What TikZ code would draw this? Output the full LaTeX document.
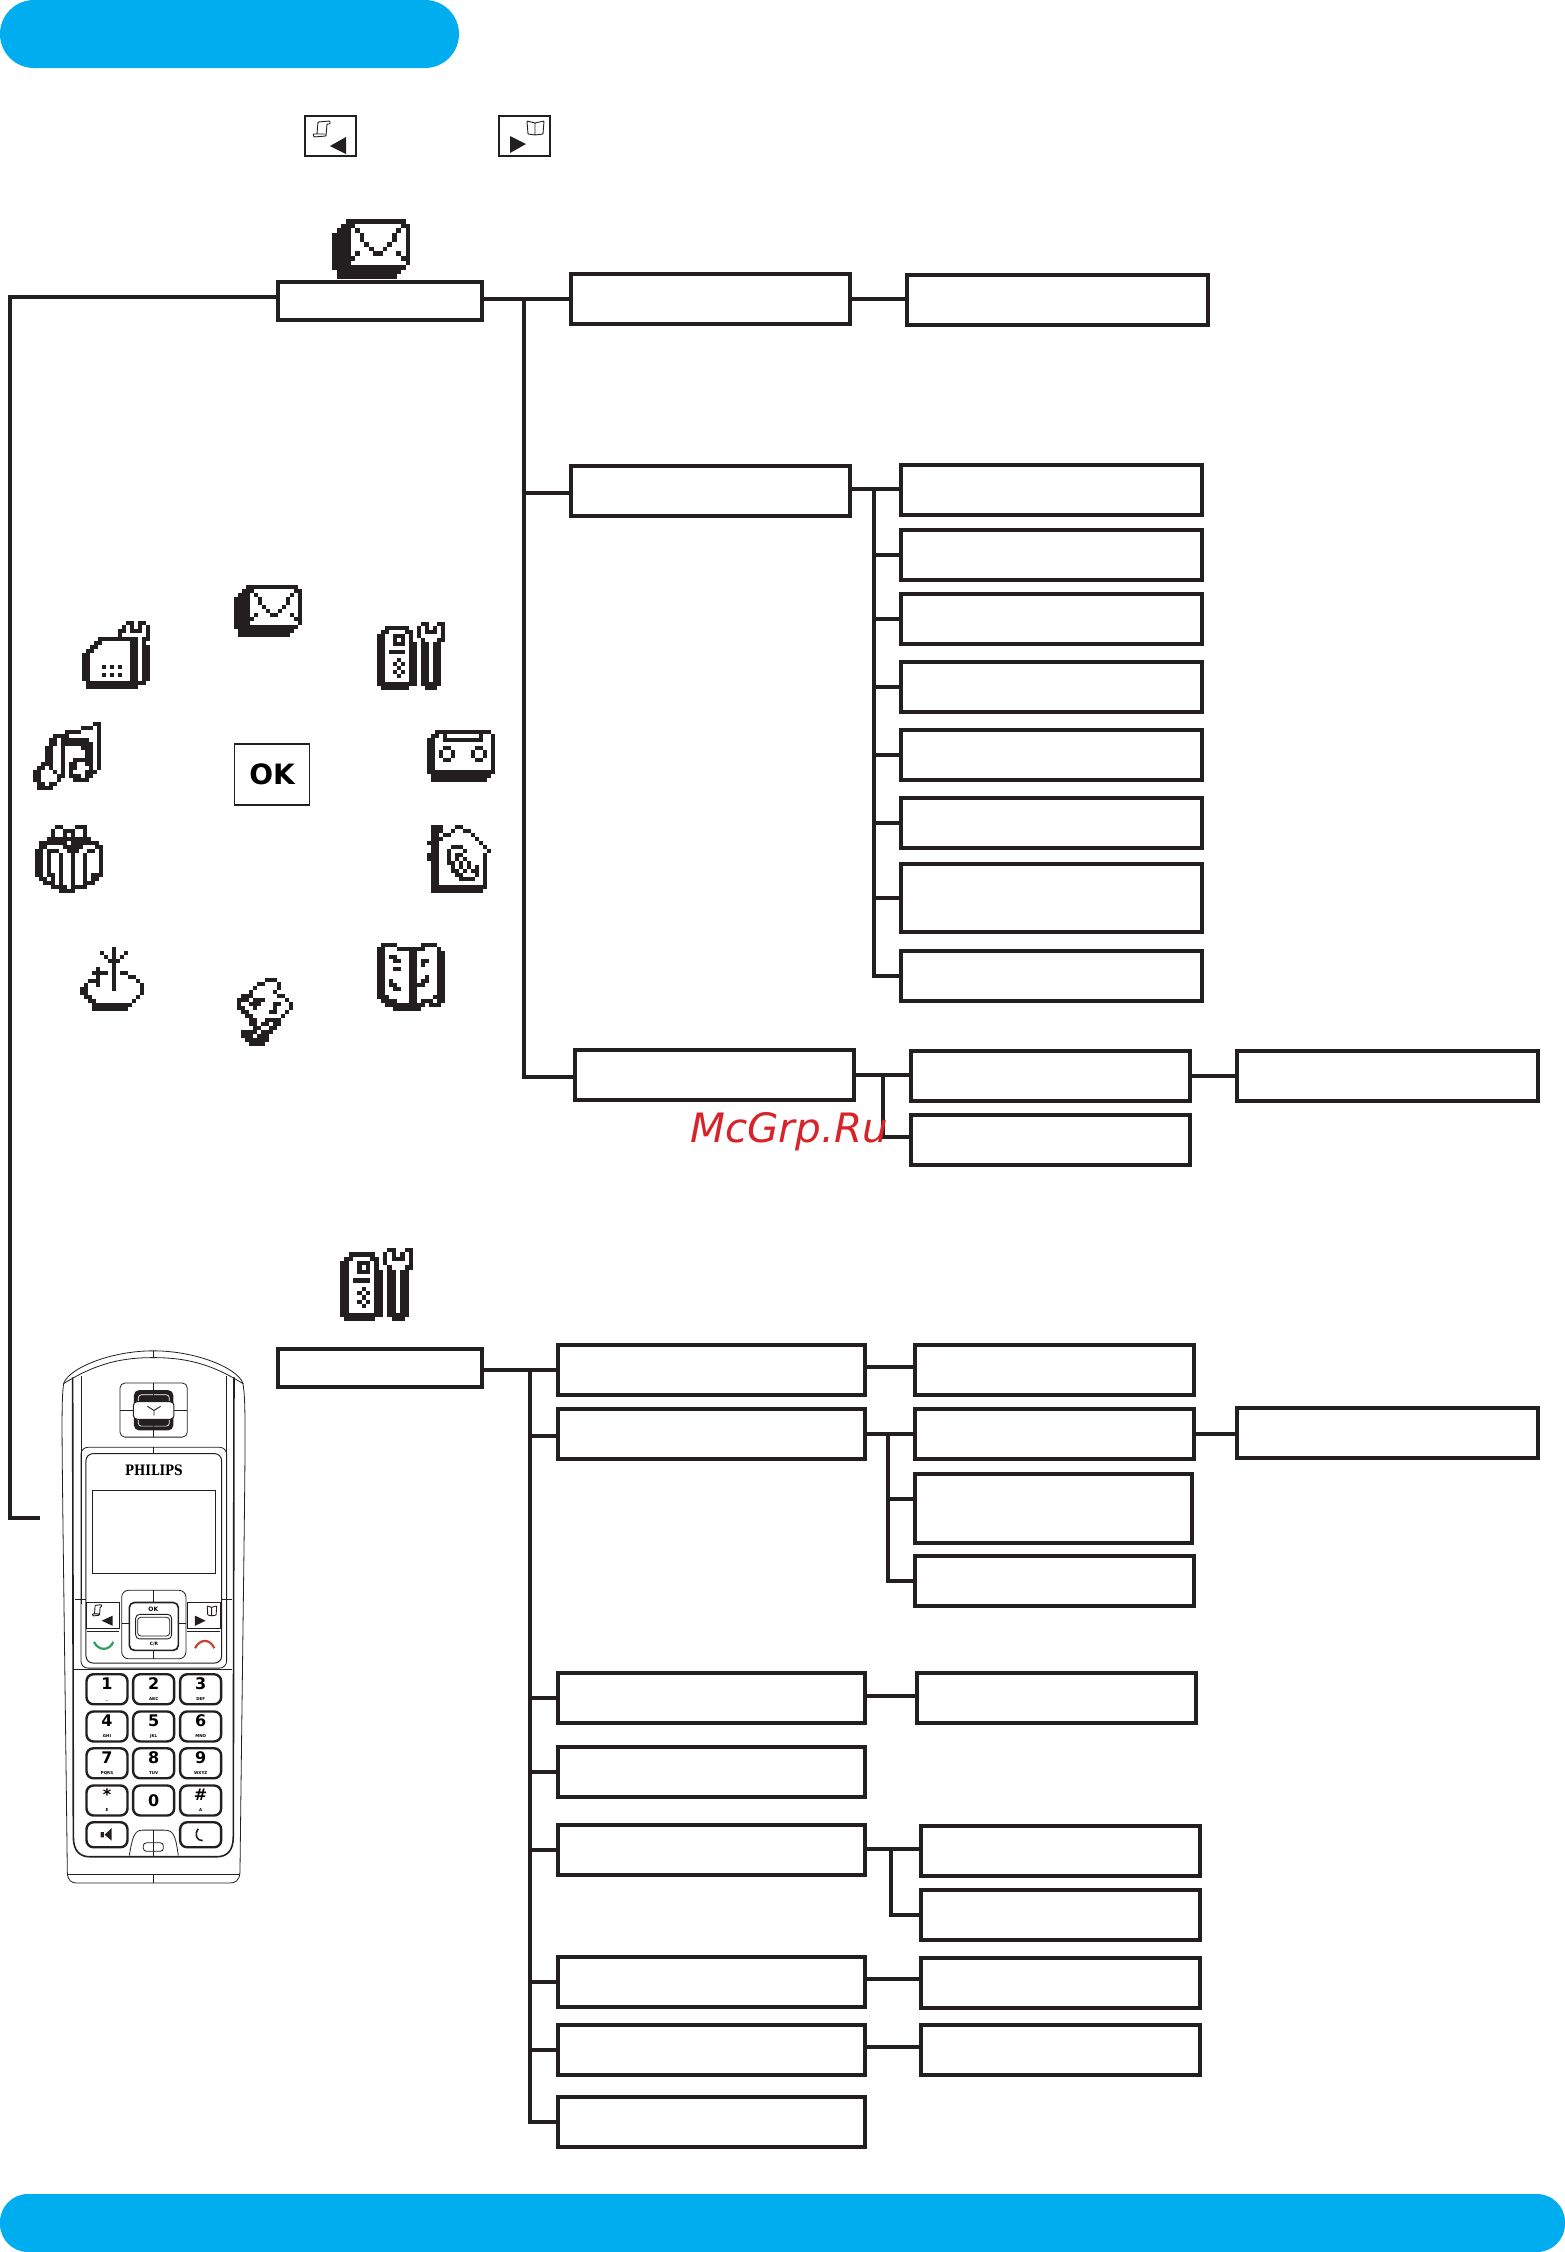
\documentclass[tikz,border=0pt]{standalone}
\usepackage{fontspec}
\usetikzlibrary{positioning}
\newfontfamily\dejavu{DejaVu Sans}
\newfontfamily\dejaserif{DejaVu Serif}
\definecolor{ink}{HTML}{231F20}
\definecolor{barblue}{HTML}{00AEEF}
\definecolor{markred}{HTML}{D9232A}
\definecolor{callgreen}{HTML}{2F9E63}
\definecolor{callred}{HTML}{C8452F}

\newcount\pixcol
\newcommand{\pixscan}[1]{\ifx#1\relax\else\if#1X\fill[ink] ({\pixx+\the\pixcol*\pixs},{\pixy+\j*\pixs}) rectangle ++({\pixs+.15},{\pixs+.15});\fi\advance\pixcol by 1 \expandafter\pixscan\fi}
\newcommand{\pixelicon}[4]{\def\pixx{#1}\def\pixy{#2}\def\pixs{#3}\foreach \row [count=\j from 0] in #4 {\pixcol=0 \expandafter\pixscan\row\relax}}
\newcommand{\keytext}[2]{{\fontsize{16}{12}\selectfont #1}\\[-1pt]{\fontsize{4}{4}\selectfont #2}}

\newcommand{\iconmail}{oooXXXXXXXXXXXXXo,ooXXXooooooooooXX,oXXXoXooooooooXoX,XXXXooXooooooXooX,XXXXooXooooooXooX,XXXXoooXooooXoooX,XXXXooooXooXooooX,XXXXoXoooXXoooXoX,XXXXXooooooooooXX,XXXXooooooooooooX,XXXXXXXXXXXXXXXXo,oXXXXXXXXXXXXXXoo,oXXXXXXXXXXXXXooo}
\newcommand{\iconfax}{oooooooooooXXoXXo,ooooooooooXoXoXoX,oooooooooXXoXXXoX,oooooooooXooooooX,ooooXXXXXXXXXXoXX,oooXXoooooooXXoXo,ooXXooooooooXXoXX,oXXoooooooooXXoXX,XXooooooooooXXoXX,XXooooooooooXXoXX,XXooooooooooXXoXX,XXoooXoXoXooXXoXX,XXooooooooooXXoXX,XXoooXoXoXooXXoXX,XXooooooooooXXoXX,oXXXXXXXXXXXXXXXo,oXXXXXXXXXXXXXooo}
\newcommand{\icontools}{oooooooooooXXooXX,ooXXXXXXooXoXoXoX,oXXooooXXoXoXXXoX,XXooXXXoXoXoooooX,XXooXoXoXooXoooXX,XXooXXXoXXoXXoXXo,XXooooooXXoXXoXXo,XXoXXXXoXXoXXoXXo,XXooooooXXoXXoXXo,XXoooXooXXoXXoXXo,XXooXoXoXXoXXoXXo,XXoooXooXXoXXoXXo,XXooXoXoXXoXXoXXo,XXoooXooXXoXXoXXo,XXooooooXXoXXoXXo,XXXXXXXXXXoXXXXXo,oXXXXXXXooooXXXoo}
\newcommand{\iconmusic}{oooooooooooooooXX,ooooooooooooXXXoX,ooooooooXXXXooooX,oooooXXXXoooooooX,ooooXXoXXXXXXXooX,ooooXXoXXXXXXXXoX,oooXXooXooooXXXoX,oooXXooXoooooXXoX,oooXXooXoooooXXoX,oooXXooXooXXXXXoX,ooXXXooXoXXooXXoX,oXXoXooXoXXoooXoX,XXoooXoXoXoooXXXo,XXooooXXoXXXoXXoo,XXooooXoooXXXXooo,oXXoXXooooooooooo,oXXXXoooooooooooo}
\newcommand{\icontape}{ooXXXXXXXXXXXXXXo,oXXoXooooooooXooX,XXooXXXXXXXXXXooX,XXooooooooooooooX,XXooXXooooooXXooX,XXoXooXooooXooXoX,XXoXooXooooXooXoX,XXooXXooooooXXooX,XXooooooooooooooX,XXooooooooooooooX,XXXXXXXXXXXXXXXXX,oXXXXXXXXXXXXXXXo,oXXXXXXXXXXXXXXoo}
\newcommand{\icongift}{oooooXXoooXXXoooo,ooooXooXXXooXoooo,ooooXooXoXooXoooo,oooXXXXXXXXXXXooo,oXXXXXXXoXXXXXXXo,oXXooooXXXXXoooXX,XXoXXXooXXXooXXoX,XXoXooXooXooXoooX,XXoXooXooXooXoooX,XXoXooXooXooXoooX,XXoXooXooXooXoooX,XXoXooXooXooXoooX,XXoXXoXooXooXoXXX,oXXoXoXooXooXoXXo,ooXXXoXooXooXXXoo,ooooXXXXoXXXXoooo,ooooooXXXXooooooo}
\newcommand{\iconhouse}{oXXXoooXXooooooo,oXXXooXooXXooooo,oXXoXXoooooXoooo,oXXXooooooooXooo,XXXooooooooooXoo,oXXoooXXXoooooXo,oXXooXoooXoooooX,XXXooXoXXoooooXo,XXXooXoXoXooooXo,oXXooXXoXoXoooXo,oXXoooXoXoXoXoXo,oXXoooXXoXoXXoXo,oXXooooXXoooXoXo,oXXoooooXXXXooXo,oXXoooooooooooXo,oXXXXXXXXXXXXXXo,oXXXXXXXXXXXXXoo}
\newcommand{\iconaerial}{ooooooooXooooooo,oooooXooXooXoooo,ooooooXoXoXooooo,oooooooXXXoooooo,ooooooooXooooooo,ooooXoooXooooooo,oooXXXXoXoXXoooo,ooooXoooXoooXXoo,ooXXXoooXoooooXo,oXooXoooXooooooX,XXooooooXooooooX,XXoooooooooooooX,oXXoooooooooooXo,ooXXoooooooooXoo,oooXXXXXXXXXXooo,oooXXXXXXXXXoooo}
\newcommand{\iconscroll}{oooooooXXXoooo,oooooXXoooXooo,ooooXoooooXooo,oooXoooooXoooo,oXXXooooooXXoo,XXXoXXXoooooXo,XooXXXoooXXooX,XXooXooooXoooX,oXXoooooXXooXo,ooXXoooooooXoo,oooXXooXXXXooo,oooXXoXXoXXooo,ooooXXooXXoooo,oXXXXoXXXooooo,oXXXoXXXoooooo,ooXXXXXXoooooo,oooXXXXooooooo}
\newcommand{\iconbook}{oXXXXooooooXXXXoo,XXoooXXXXXXXoooXo,XXooooooXXoooooXX,XXoXXoooXXoooooXX,XXooXXooXXoXXooXX,XXooooooXXoXoooXX,XXooXXooXXoooooXX,XXooooooXXoooooXX,XXooooooXXooXooXX,XXoXooooXXoXXooXX,XXoXXoooXXXXoooXX,XXooXXooXXoooooXX,XXooooooXXoooooXX,XXXoooooXXooooXXX,oXXXXoooXXoXXXoXX,ooXXXXXXXXXXoXXXo,ooooXXXXXXXoooooo}

\tikzset{
  pics/scrollmark/.style={code={
    \draw[ink, line width=.9pt, rounded corners=.8pt] (4,13) -- (5,1) -- (17,0) -- (17,3) -- (14,3) -- (13,15) -- (1,16) -- (0,13) -- (12,13);
  }},
  pics/bookmark/.style={code={
    \draw[ink, line width=.9pt, rounded corners=.6pt] (9,2) -- (1,0) -- (2,13) -- (9,14) -- cycle (9,2) -- (18,0) -- (17,13) -- (9,14);
  }}
}

\begin{document}
\begin{tikzpicture}[x=1pt, y=-1pt]
    \tikzstyle{boxbase} = [draw=ink, line width=4.2pt, fill=white, inner sep=0, outer sep=0, anchor=north west]
    \tikzstyle{topbox} = [boxbase, minimum width=204pt, minimum height=38pt]
    \tikzstyle{wideitem} = [boxbase, minimum width=307pt, minimum height=50pt]
    \tikzstyle{item} = [boxbase, minimum width=279pt, minimum height=50pt]
    \tikzstyle{leaf} = [boxbase, minimum width=301pt, minimum height=50pt]
    \tikzstyle{link} = [ink, line width=4pt]
    \tikzstyle{softkey} = [draw=ink, line width=1.5pt, fill=white, inner sep=0, minimum width=51pt, minimum height=40pt]
    \tikzstyle{phoneline} = [ink, line width=.8pt]
    \tikzstyle{phonekey} = [draw=ink, line width=2.4pt, rounded corners=7pt, inner sep=0, minimum width=41pt, minimum height=30pt, align=center, font=\dejavu\bfseries]
    \useasboundingbox (0, 0) rectangle (1565, 2252);

    % blue bars
    \fill[barblue, rounded corners=34pt] (0, 0) rectangle (459, 68);
    \fill[barblue, rounded corners=28pt] (0, 2194) rectangle (1565, 2252);

    % soft keys
    \node[softkey] (softleft) at (330.5, 136) {};
    \node[softkey] (softright) at (524.5, 136) {};
    \pic at (313, 121) {scrollmark};
    \fill[ink] (330, 146) -- (346, 137) -- (346, 154) -- cycle;
    \pic at (526, 121) {bookmark};
    \fill[ink] (526, 144) -- (510, 136) -- (510, 153) -- cycle;

    % icons round the ok key
    \pixelicon{332}{219}{4.6}{\iconmail}
    \pixelicon{234}{585}{4}{\iconmail}
    \pixelicon{82}{621}{4}{\iconfax}
    \pixelicon{377}{622}{4}{\icontools}
    \pixelicon{33}{722}{4}{\iconmusic}
    \pixelicon{427}{730}{4}{\icontape}
    \pixelicon{35}{825}{4}{\icongift}
    \pixelicon{427}{825}{4}{\iconhouse}
    \pixelicon{80}{947}{4}{\iconaerial}
    \pixelicon{237}{978}{4}{\iconscroll}
    \pixelicon{377}{943}{4}{\iconbook}
    \pixelicon{340}{1248}{4.3}{\icontools}
    \node[draw=ink, line width=1.6pt, minimum width=75pt, minimum height=61pt, font=\dejavu\bfseries\fontsize{28}{28}\selectfont, inner sep=0] (okkey) at (272, 774.5) {OK};

    % messages menu
    \node[topbox] (mail) at (278, 282) {};
    \node[item] (m1) at (571, 274) {};
    \node[leaf] (m1a) at (907, 275) {};
    \node[item] (m2) at (571, 466) {};
    \node[leaf] (m2a) at (901, 465) {};
    \node[leaf] (m2b) at (901, 530) {};
    \node[leaf] (m2c) at (901, 594) {};
    \node[leaf] (m2d) at (901, 662) {};
    \node[leaf] (m2e) at (901, 730) {};
    \node[leaf] (m2f) at (901, 798) {};
    \node[leaf, minimum height=68pt] (m2g) at (901, 864) {};
    \node[leaf] (m2h) at (901, 951) {};
    \node[item] (m3) at (575, 1050) {};
    \node[item] (m3a) at (911, 1051) {};
    \node[leaf] (m3b) at (1237, 1051) {};
    \node[item] (m3c) at (911, 1115) {};

    \coordinate (mailtrunk) at (524, 299);
    \coordinate (leftcorner) at (10, 1518);
    \coordinate (leftstub) at (40, 1518);
    \coordinate (m2trunk) at (874, 489);
    \coordinate (m3trunk) at (883, 1075);
    \draw[link] ([yshift=4pt]mail.west) -| (leftcorner) -- (leftstub);
    \draw[link] (mail.east |- m1.west) -- (m1.west);
    \draw[link] (mailtrunk) |- ([yshift=-2pt]m2.west);
    \draw[link] (mailtrunk) |- ([yshift=-2pt]m3.west);
    \draw[link] (m1.east) -- (m1.east -| m1a.west);
    \draw[link] (m2.east |- m2trunk) -- (m2a.west |- m2trunk);
    \draw[link] (m2trunk) |- (m2b.west);
    \draw[link] (m2trunk) |- (m2c.west);
    \draw[link] (m2trunk) |- (m2d.west);
    \draw[link] (m2trunk) |- (m2e.west);
    \draw[link] (m2trunk) |- (m2f.west);
    \draw[link] (m2trunk) |- (m2g.west);
    \draw[link] (m2trunk) |- (m2h.west);
    \draw[link] (m3.east |- m3trunk) -- (m3a.west |- m3trunk);
    \draw[link] (m3trunk) |- ([yshift=3pt]m3c.west);
    \draw[link] (m3a.east) -- (m3a.east -| m3b.west);

    % settings menu
    \node[topbox] (tools) at (278, 1349) {};
    \node[wideitem] (s1) at (558, 1345) {};
    \node[item] (s1a) at (915, 1345) {};
    \node[wideitem] (s2) at (558, 1409) {};
    \node[item] (s2a) at (915, 1409) {};
    \node[leaf] (s2b) at (1237, 1408) {};
    \node[item, minimum width=277pt, minimum height=69pt] (s2c) at (915, 1474) {};
    \node[item] (s2d) at (915, 1556) {};
    \node[wideitem] (s3) at (558, 1673) {};
    \node[item] (s3a) at (917, 1673) {};
    \node[wideitem] (s4) at (558, 1747) {};
    \node[wideitem] (s5) at (558, 1825) {};
    \node[item] (s5a) at (921, 1826) {};
    \node[item] (s5b) at (921, 1890) {};
    \node[wideitem] (s6) at (558, 1957) {};
    \node[item] (s6a) at (921, 1958) {};
    \node[wideitem] (s7) at (558, 2025) {};
    \node[item] (s7a) at (921, 2025) {};
    \node[wideitem] (s8) at (558, 2097) {};

    \coordinate (toolstrunk) at (530, 1372);
    \coordinate (s2trunk) at (888, 1434);
    \coordinate (s5trunk) at (891, 1849);
    \draw[link] (tools.east |- s1.west) -- (s1.west);
    \draw[link] (toolstrunk) |- ([yshift=-2pt]s2.west);
    \draw[link] (toolstrunk) |- (s3.west);
    \draw[link] (toolstrunk) |- (s4.west);
    \draw[link] (toolstrunk) |- (s5.west);
    \draw[link] (toolstrunk) |- (s6.west);
    \draw[link] (toolstrunk) |- (s7.west);
    \draw[link] (toolstrunk) |- (s8.west);
    \draw[link] ([yshift=3pt]s1.east) -- ([yshift=3pt]s1.east -| s1a.west);
    \draw[link] (s2.east |- s2trunk) -- (s2a.west |- s2trunk);
    \draw[link] (s2trunk) |- ([yshift=10pt]s2c.west);
    \draw[link] (s2trunk) |- (s2d.west);
    \draw[link] (s2a.east) -- (s2a.east -| s2b.west);
    \draw[link] ([yshift=2pt]s3.east) -- ([yshift=2pt]s3.east -| s3a.west);
    \draw[link] (s5.east |- s5trunk) -- (s5a.west |- s5trunk);
    \draw[link] (s5trunk) |- (s5b.west);
    \draw[link] ([yshift=3pt]s6.east) -- ([yshift=3pt]s6.east -| s6a.west);
    \draw[link] ([yshift=3pt]s7.east) -- ([yshift=3pt]s7.east -| s7a.west);

    % handset
    \begin{scope}[shift={(30, 1240)}, x=0.3333pt, y=-0.423pt]
        % shell
        \draw[phoneline] (100, 345) .. controls (100, 310) and (230, 262) .. (370, 262) .. controls (510, 262) and (640, 310) .. (640, 345) .. controls (650, 400) and (645, 500) .. (630, 1495) .. controls (628, 1515) and (615, 1520) .. (600, 1520) -- (140, 1520) .. controls (125, 1520) and (113, 1515) .. (112, 1495) .. controls (97, 500) and (92, 400) .. (100, 345) -- cycle;
        \draw[phoneline] (100, 340) .. controls (200, 290) and (280, 278) .. (370, 278) .. controls (460, 278) and (540, 290) .. (640, 340);
        \draw[phoneline] (370, 262) -- (370, 278) (112, 1500) -- (630, 1500) (370, 1500) -- (370, 1520);
        \draw[ink, line width=1.6pt] (128, 325) -- (130, 1410) .. controls (130, 1445) and (150, 1458) .. (180, 1458) -- (560, 1458) .. controls (590, 1458) and (610, 1445) .. (610, 1410) -- (612, 325);
        \draw[phoneline] (153, 322) -- (153, 860) (590, 322) -- (590, 860);
        % earpiece
        \draw[phoneline, rounded corners=5pt] (270, 338) rectangle (472, 466);
        \fill[ink, rounded corners=5pt] (312, 355) rectangle (430, 450);
        \draw[white, line width=.7pt, rounded corners=3pt] (325, 366) rectangle (418, 440);
        \draw[ink, fill=white, line width=1pt, rounded corners=4pt] (310, 382) rectangle (432, 424);
        \draw[phoneline] (370, 338) -- (370, 382) (370, 424) -- (370, 466) (270, 402) -- (310, 402) (432, 402) -- (472, 402);
        \draw[ink, line width=.9pt] (372, 403) -- (372, 415) (352, 393) -- (372, 403) -- (392, 393);
        % display panel
        \draw[phoneline, rounded corners=7pt] (153, 860) -- (153, 490) -- (590, 490) -- (590, 860) -- (590, 1012) -- (153, 1012) -- cycle;
        \draw[ink, line width=1pt, rounded corners=7pt] (168, 850) -- (168, 505) -- (575, 505) -- (575, 1000) -- (168, 1000) -- cycle;
        \draw[phoneline] (370, 490) -- (370, 505) (133, 1015) -- (607, 1015) (135, 850) -- (168, 850) (575, 850) -- (607, 850);
        \node[font=\dejaserif\bfseries\fontsize{12}{12}\selectfont, inner sep=0] (brand) at (372, 545) {\scalebox{1}[1.2]{PHILIPS}};
        \draw[phoneline, line width=.9pt] (186, 593) rectangle (556, 788);
        % navigation keys
        \draw[phoneline] (170, 857) rectangle (268, 918) (472, 857) rectangle (570, 918) (170, 925) -- (268, 925) (472, 925) -- (570, 925);
        \pic[scale=1.67] at (187, 862) {scrollmark};
        \pic[scale=1.67] at (530, 865) {bookmark};
        \fill[ink] (215, 900) -- (248, 888) -- (248, 912) -- cycle;
        \fill[ink] (527, 900) -- (495, 888) -- (495, 912) -- cycle;
        \draw[callgreen, line width=2.2pt] (192, 950) .. controls (205, 972) and (238, 972) .. (250, 950);
        \draw[callred, line width=2.2pt] (495, 965) .. controls (510, 942) and (540, 942) .. (553, 965);
        \draw[phoneline, fill=white, rounded corners=7pt] (275, 828) rectangle (468, 990);
        \draw[ink, line width=1.6pt, rounded corners=5pt] (298, 857) rectangle (445, 970);
        \draw[ink, line width=.9pt, rounded corners=4pt] (317, 885) rectangle (425, 943);
        \draw[phoneline, rounded corners=3pt] (323, 892) rectangle (419, 936);
        \draw[phoneline] (370, 828) -- (370, 857) (370, 970) -- (370, 990) (275, 907) -- (298, 907) (445, 907) -- (468, 907);
        \node[font=\dejavu\bfseries\fontsize{6}{6}\selectfont, inner sep=0] (navok) at (370, 872) {OK};
        \node[font=\dejavu\bfseries\fontsize{4.5}{5}\selectfont, inner sep=0] (navcr) at (372, 955) {C/R};
        % number keys
        \node[phonekey] (k1) at (231, 1062) {\keytext{1}{\_}};
        \node[phonekey] (k2) at (371, 1062) {\keytext{2}{ABC}};
        \node[phonekey] (k3) at (512, 1062) {\keytext{3}{DEF}};
        \node[phonekey] (k4) at (231, 1150) {\keytext{4}{GHI}};
        \node[phonekey] (k5) at (371, 1150) {\keytext{5}{JKL}};
        \node[phonekey] (k6) at (512, 1150) {\keytext{6}{MNO}};
        \node[phonekey] (k7) at (231, 1237) {\keytext{7}{PQRS}};
        \node[phonekey] (k8) at (371, 1237) {\keytext{8}{TUV}};
        \node[phonekey] (k9) at (512, 1237) {\keytext{9}{WXYZ}};
        \node[phonekey] (kstar) at (231, 1325) {\keytext{*}{E}};
        \node[phonekey] (k0) at (371, 1325) {\fontsize{16}{16}\selectfont 0};
        \node[phonekey] (khash) at (512, 1325) {\keytext{\#}{A}};
        \node[phonekey, minimum height=25pt] (kspeaker) at (231, 1406) {};
        \node[phonekey, minimum height=25pt] (kredial) at (512, 1406) {};
        \fill[ink] (212, 1400) rectangle (222, 1412) (224, 1406) -- (245, 1390) -- (245, 1420) -- cycle;
        \draw[ink, line width=1.6pt] (505, 1392) .. controls (492, 1405) and (500, 1420) .. (518, 1420);
        % microphone
        \draw[phoneline] (298, 1455) .. controls (310, 1395) and (320, 1395) .. (345, 1395) -- (395, 1395) .. controls (425, 1395) and (435, 1395) .. (445, 1455);
        \draw[phoneline, rounded corners=3pt] (340, 1425) rectangle (400, 1445);
        \draw[phoneline] (370, 1395) -- (370, 1458);
    \end{scope}

    % watermark
    \node[font=\dejavu\itshape\fontsize{40.5}{40}\selectfont, text=markred, anchor=base west, inner sep=0] (mark) at (690, 1142) {McGrp.Ru};
\end{tikzpicture}
\end{document}
